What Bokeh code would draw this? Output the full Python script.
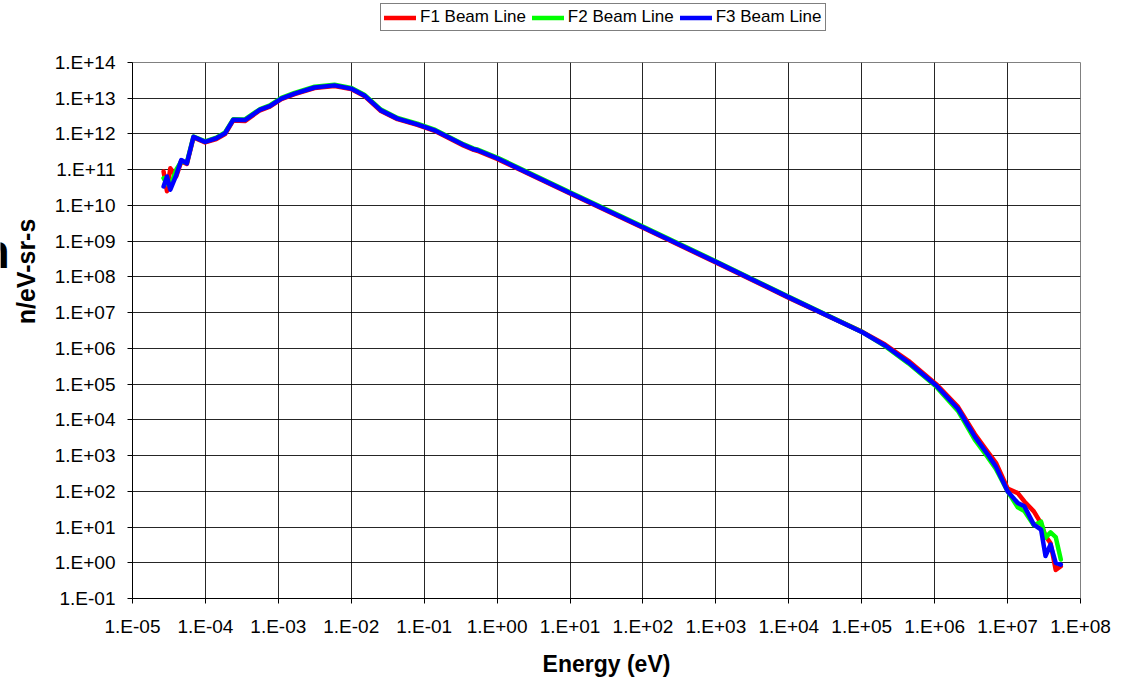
from bokeh.plotting import figure
from bokeh.models import FixedTicker, Legend, LegendItem, Label
from bokeh.layouts import column, row
from bokeh.embed import file_html
from bokeh.resources import INLINE

# ---------------- data ----------------
energy = [2.67e-5, 2.97e-5, 3.30e-5, 3.98e-5, 4.66e-5, 5.57e-5, 6.86e-5, 9.91e-5,
          1.41e-4, 1.86e-4, 2.41e-4, 3.48e-4, 5.62e-4, 7.64e-4, 1.10e-3, 1.67e-3,
          3.14e-3, 5.89e-3, 9.93e-3, 1.51e-2, 2.55e-2, 4.30e-2, 8.05e-2, 1.36e-1,
          3.49e-1, 4.79e-1, 5.31e-1, 1.0, 10.0, 105.0, 1047.0, 1.02e4,
          1.02e5, 2.09e5, 4.37e5, 1.05e6, 2.09e6, 3.55e6, 5.37e6, 6.92e6,
          1.0e7, 1.38e7, 1.70e7, 2.29e7, 2.88e7, 3.31e7, 3.89e7, 4.57e7, 5.37e7]

f1_flux = [8.9e10, 2.5e10, 1.1e11, 6.5e10, 1.7e11, 1.45e11, 8.0e11, 5.8e11,
           7.2e11, 1.0e12, 2.4e12, 2.3e12, 4.6e12, 5.8e12, 9.4e12, 1.3e13,
           1.93e13, 2.2e13, 1.8e13, 1.16e13, 4.4e12, 2.6e12, 1.8e12, 1.25e12,
           4.7e11, 3.6e11, 3.4e11, 2.0e11, 2.15e10, 2.25e9, 2.42e8, 2.55e7,
           2.9e6, 1.28e6, 4.5e5, 1.0e5, 2.3e4, 4.0e3, 1.25e3, 630.0,
           120.0, 89.0, 52.0, 27.5, 12.6, 5.6, 3.5, 0.63, 0.8]

f2_flux = [5.8e10, 4.0e10, 3.5e10, 1.0e11, 1.7e11, 1.6e11, 8.5e11, 6.2e11,
           7.9e11, 1.1e12, 2.6e12, 2.55e12, 5.0e12, 6.3e12, 1.02e13, 1.42e13,
           2.1e13, 2.4e13, 1.95e13, 1.26e13, 4.8e12, 2.8e12, 1.95e12, 1.35e12,
           5.1e11, 3.9e11, 3.7e11, 2.2e11, 2.35e10, 2.45e9, 2.62e8, 2.72e7,
           2.85e6, 1.15e6, 3.8e5, 8.5e4, 1.78e4, 2.8e3, 890.0, 420.0,
           100.0, 35.5, 28.2, 11.2, 14.1, 5.0, 7.1, 5.25, 1.23]

f3_flux = [3.39e10, 6.46e10, 2.75e10, 7.08e10, 1.86e11, 1.51e11, 8.32e11, 6.03e11,
           7.59e11, 1.05e12, 2.51e12, 2.45e12, 4.79e12, 6.03e12, 9.77e12, 1.35e13,
           2.00e13, 2.29e13, 1.86e13, 1.20e13, 4.57e12, 2.69e12, 1.86e12, 1.29e12,
           4.90e11, 3.72e11, 3.55e11, 2.09e11, 2.24e10, 2.34e9, 2.51e8, 2.63e7,
           2.82e6, 1.20e6, 4.07e5, 9.12e4, 2.04e4, 3.39e3, 1.05e3, 490.0,
           100.0, 46.8, 38.0, 11.7, 8.5, 1.55, 3.24, 1.0, 0.89]

series_names = ["F1 Beam Line", "F2 Beam Line", "F3 Beam Line"]
series_colors = ["#FF0000", "#00FF00", "#0000FF"]

x_ticks = [1e-5, 1e-4, 1e-3, 1e-2, 1e-1, 1e0, 1e1, 1e2, 1e3, 1e4, 1e5, 1e6, 1e7, 1e8]
x_tick_labels = ["1.E-05", "1.E-04", "1.E-03", "1.E-02", "1.E-01", "1.E+00", "1.E+01",
                 "1.E+02", "1.E+03", "1.E+04", "1.E+05", "1.E+06", "1.E+07", "1.E+08"]
y_ticks = [1e-1, 1e0, 1e1, 1e2, 1e3, 1e4, 1e5, 1e6, 1e7, 1e8, 1e9, 1e10, 1e11, 1e12, 1e13, 1e14]
y_tick_labels = ["1.E-01", "1.E+00", "1.E+01", "1.E+02", "1.E+03", "1.E+04", "1.E+05",
                 "1.E+06", "1.E+07", "1.E+08", "1.E+09", "1.E+10", "1.E+11", "1.E+12",
                 "1.E+13", "1.E+14"]
x_title = "Energy (eV)"
y_title = "n/eV-sr-s"
stray_text = "n"

FONT = "Liberation Sans"
W, H = 1123, 679
LEG_H = 50
STRIP_W = 8

# ---------------- main chart ----------------
p = figure(width=W - STRIP_W, height=H - LEG_H, x_axis_type="log", y_axis_type="log",
           x_range=(1e-5, 1e8), y_range=(1e-1, 1e14),
           output_backend="svg", toolbar_location=None,
           min_border_left=127 - STRIP_W, min_border_right=43,
           min_border_top=62 - LEG_H, min_border_bottom=78)
p.background_fill_color = "white"
p.border_fill_color = "white"
p.outline_line_color = "#808080"
p.outline_line_width = 1

fluxes = [f1_flux, f2_flux, f3_flux]
for name, col, fl in zip(series_names, series_colors, fluxes):
    p.line(energy, fl, line_color=col, line_width=4.5, line_join="round", line_cap="round")

xt = FixedTicker(ticks=x_ticks, minor_ticks=[])
yt = FixedTicker(ticks=y_ticks, minor_ticks=[])
p.xaxis.ticker = xt
p.yaxis.ticker = yt
p.xgrid.ticker = xt
p.ygrid.ticker = yt
p.xaxis.major_label_overrides = {float(v): s for v, s in zip(x_ticks, x_tick_labels)}
p.yaxis.major_label_overrides = {float(v): s for v, s in zip(y_ticks, y_tick_labels)}

for g in (p.xgrid, p.ygrid):
    g.grid_line_color = "black"
    g.grid_line_width = 1
    g.grid_line_alpha = 0.85

for ax in (p.xaxis, p.yaxis):
    ax.axis_line_color = "black"
    ax.major_tick_line_color = "black"
    ax.major_tick_in = 0
    ax.major_tick_out = 5
    ax.minor_tick_line_color = None
    ax.major_label_text_font = FONT
    ax.major_label_text_font_size = "19px"
    ax.major_label_text_color = "black"
    ax.axis_label_text_font = FONT
    ax.axis_label_text_font_style = "bold"
    ax.axis_label_text_color = "black"

p.xaxis.axis_label = x_title
p.xaxis.axis_label_text_font_size = "23px"
p.xaxis.major_label_standoff = 12
p.xaxis.axis_label_standoff = 11

# y title: leading no-break spaces push it above the vertical centre, as in the original
p.yaxis.axis_label = "\u00a0" * 17 + y_title
p.yaxis.axis_label_text_font_size = "25px"
p.yaxis.major_label_standoff = 12
p.yaxis.axis_label_standoff = 12

# ---------------- legend strip above the chart ----------------
lg = figure(width=W, height=LEG_H, x_range=(0, 1), y_range=(0, 1),
            x_axis_location=None, y_axis_location=None,
            output_backend="svg", toolbar_location=None, min_border=0)
lg.grid.visible = False
lg.outline_line_color = None
lg.background_fill_color = "white"
lg.border_fill_color = "white"
# swatch-only renderers, kept outside the visible range of this strip
swatches = [lg.line(x=[5, 6], y=[5, 6], line_color=c, line_width=4.5, line_cap="round")
            for c in series_colors]
legend = Legend(items=[LegendItem(label=n, renderers=[r]) for n, r in zip(series_names, swatches)],
                orientation="horizontal", location=(380, LEG_H - 31),
                label_text_font=FONT, label_text_font_size="17px", label_text_color="black",
                glyph_width=32, glyph_height=19, label_height=19, label_standoff=4,
                spacing=6, padding=3, margin=0,
                border_line_color="black", border_line_width=1,
                background_fill_color="white", background_fill_alpha=1)
lg.add_layout(legend)

# ---------------- narrow strip at the far left with the clipped glyph ----------------
st = figure(width=STRIP_W, height=H - LEG_H, x_range=(0, 1), y_range=(0, 1),
            x_axis_location=None, y_axis_location=None,
            output_backend="svg", toolbar_location=None, min_border=0)
st.grid.visible = False
st.outline_line_color = None
st.background_fill_color = "white"
st.border_fill_color = "white"
st.add_layout(Label(x=-20, y=321, x_units="screen", y_units="screen",
                    text=stray_text, text_font=FONT, text_font_style="bold",
                    text_font_size="48px", text_color="black"))

layout = column(lg, row(st, p, spacing=0), spacing=0)
open("out.html", "w").write(file_html(layout, INLINE))
